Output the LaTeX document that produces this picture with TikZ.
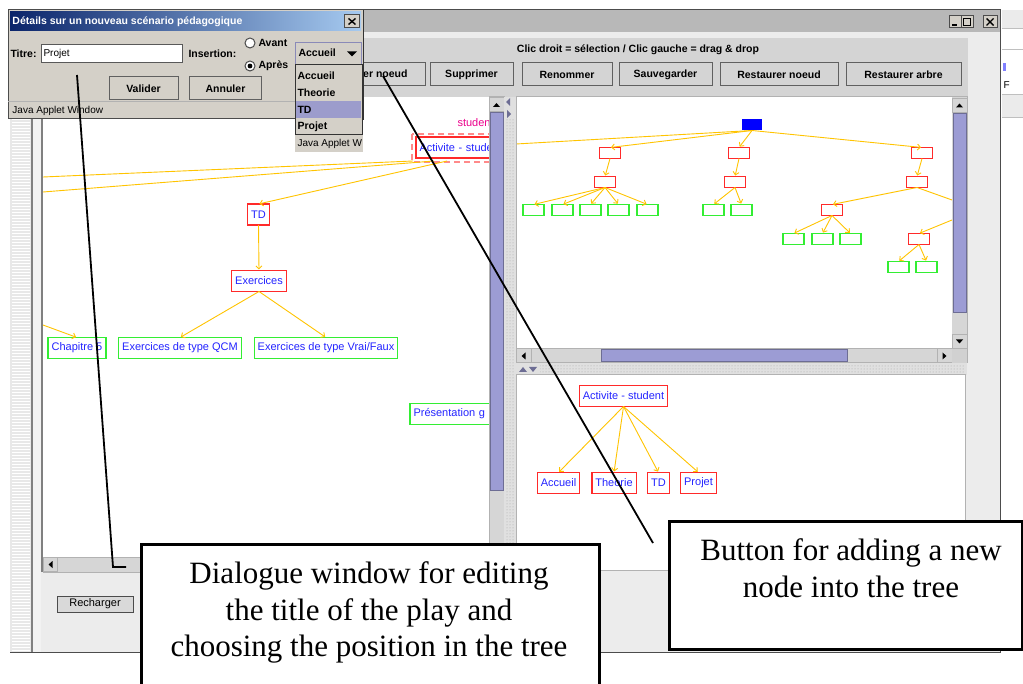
\documentclass[tikz,border=0pt]{standalone}
\usepackage{fontspec}
\setmainfont{Liberation Serif}
\newfontfamily\uif{Liberation Sans}
\usetikzlibrary{arrows.meta,patterns}
\definecolor{winbg}{HTML}{ECECEC}
\definecolor{dlgbg}{HTML}{D4D0C8}
\definecolor{tbbg}{HTML}{D4D4D4}
\definecolor{thumb}{HTML}{9C9CD4}
\definecolor{track}{HTML}{D6D6D6}
\definecolor{tyel}{HTML}{FFC400}
\definecolor{tblue}{HTML}{2424FF}
\definecolor{tred}{HTML}{FF2A2A}
\definecolor{tgreen}{HTML}{33EE33}
\definecolor{ttlA}{HTML}{0A246A}
\definecolor{ttlB}{HTML}{A6CAF0}
\definecolor{selc}{HTML}{9C9CCC}
\definecolor{combob}{HTML}{8A8AB8}
\newcommand\fui{\uif\fontsize{10}{12}\selectfont}
\newcommand\fuib{\uif\bfseries\fontsize{10.5}{12}\selectfont}
\newcommand\ftree{\uif\fontsize{11}{13}\selectfont}
\newcommand\fcall{\rmfamily\fontsize{31}{36.5}\selectfont}
\begin{document}
\begin{tikzpicture}[x=1pt,y=-1pt,line width=1pt,
 tbtn/.style={draw=gray!75!black, fill=tbbg, minimum height=23, inner sep=0, font=\fuib},
 dbtn/.style={tbtn, fill=dlgbg},
 wbtn/.style={draw=gray!60!black, fill=dlgbg, minimum width=12, minimum height=12, inner sep=0},
 tn/.style={text=tblue, font=\ftree, minimum height=20, inner xsep=3, inner ysep=0},
 gn/.style={tn},
 sbx/.style={minimum width=20, minimum height=10, inner sep=0},
 sgx/.style={sbx},
 rbord/.style={draw=tred, line width=1.3pt},
 gbord/.style={draw=tgreen, line width=1.3pt},
 ed/.style={draw=tyel, line width=0.9pt, -{Straight Barb[length=3pt,width=6pt]}, shorten >=1pt},
 edn/.style={draw=tyel, line width=0.9pt},
 radio/.style={circle, draw=gray!60!black, fill=white, minimum size=10, inner sep=0},
 callbox/.style={draw=black, line width=2.5pt, fill=white, inner sep=0},
 lead/.style={draw=black, line width=1.8pt},
 sarr/.style={fill=track, draw=gray!60, inner sep=0, minimum width=14, minimum height=14},
 item/.style={font=\fuib, anchor=west, inner sep=1},
]
\useasboundingbox (0,0) rectangle (1023,684);
\fill[white] (0,0) rectangle (1023,684);

% ---------- neighbouring window fragment
\fill[black!8] (1002,10) rectangle (1023,29);
\fill[black!8] (1002,95) rectangle (1023,118);
\foreach \yy in {29,50,95,118}{\draw[gray!50] (1002,\yy) -- (1023,\yy);}
\fill[blue!50] (1003,63) rectangle (1006,71);
\node[font=\fui, anchor=west, inner sep=0] (frag) at (1003,85) {F};

% ---------- main window
\fill[winbg] (10,10) rectangle (1000,652);
\fill[black!28] (10,10) rectangle (1000,32);
\draw[gray!60!black] (10,10) rectangle (1000,652);
\node[wbtn] (wmin) at (955,22) {};
\node[wbtn] (wmax) at (967,22) {};
\node[wbtn, minimum width=14] (wclose) at (990,22) {};
\draw[line width=1.6pt] ([shift={(-3,3)}]wmin.center) -- ([shift={(2,3)}]wmin.center);
\draw ([shift={(-3.5,-3.5)}]wmax.center) rectangle ([shift={(3.5,3.5)}]wmax.center);
\draw[line width=1.4pt] ([shift={(-3.5,-3.5)}]wclose.center) -- ([shift={(3.5,3.5)}]wclose.center);
\draw[line width=1.4pt] ([shift={(-3.5,3.5)}]wclose.center) -- ([shift={(3.5,-3.5)}]wclose.center);

% toolbar
\fill[tbbg] (10,38) rectangle (968,97);
\node[font=\fuib] (tblabel) at (638,50) {Clic droit = sélection / Clic gauche = drag \& drop};
\node[tbtn, minimum width=106] (bajout) at (372,74.5) {Ajouter noeud};
\node[tbtn, minimum width=83] (bsupp) at (471.5,74.5) {Supprimer};
\node[tbtn, minimum width=90] (brenom) at (567,74.5) {Renommer};
\node[tbtn, minimum width=93] (bsauve) at (665.5,74.5) {Sauvegarder};
\node[tbtn, minimum width=118] (brestn) at (779,74.5) {Restaurer noeud};
\node[tbtn, minimum width=115] (bresta) at (903.5,74.5) {Restaurer arbre};

% left strip
\fill[black!9] (10,97) rectangle (31,652);
\fill[pattern=horizontal lines, pattern color=white] (12,97) rectangle (30,652);
\fill[black!50] (30.5,97) rectangle (32.5,652);
\fill[black!5] (32.5,97) rectangle (41,652);
\fill[black!50] (41,97) rectangle (43,572);

% ---------- left panel
\fill[white] (43,97) rectangle (489,557);
\begin{scope}
\clip (43,97) rectangle (489,557);
\node[text=magenta, font=\ftree, anchor=west, inner sep=0] (stud) at (457,123) {studen};
\draw[tred!55, dash pattern=on 6pt off 4pt, line width=1.6pt] (412,134) rectangle (520,162);
\node[tn, anchor=west, text width=104, align=left] (lact) at (416,147.5) {Activite - stude};
\node[tn] (ltd) at (258.5,214.5) {TD};
\node[tn] (lex) at (259,281) {Exercices};
\node[gn] (lch) at (77,348) {Chapitre 5};
\node[gn] (lqcm) at (180,348) {Exercices de type QCM};
\node[gn] (lvf) at (326,348) {Exercices de type Vrai/Faux};
\node[gn, anchor=west, text width=114, align=left] (lpres) at (410,414) {Présentation g};
\foreach \k in {lact,ltd,lex}{\draw[rbord] (\k.south west) rectangle (\k.north east);}
\foreach \k in {lch,lqcm,lvf,lpres}{\draw[gbord] (\k.south west) rectangle (\k.north east);}
\coordinate (loff1) at (43,177);
\coordinate (loff2) at (43,192);
\coordinate (loff3) at (43,325);
\draw[edn] ([shift={(-3,3)}]lact.south west) -- (loff1);
\draw[edn] ([shift={(18,3)}]lact.south west) -- (loff2);
\draw[ed] ([shift={(31,3)}]lact.south west) -- (ltd.north);
\draw[ed] (ltd.south) -- (lex.north);
\draw[ed] (lex.south) -- (lqcm.north);
\draw[ed] (lex.south) -- (lvf.north);
\draw[ed] (loff3) -- (lch.north);
\end{scope}

% left scrollbars
\fill[track] (489,97) rectangle (504,557);
\draw[gray!60] (489,97) rectangle (504,557);
\node[sarr, minimum width=15] (lsup) at (496.5,105) {};
\fill ([shift={(-3.5,2)}]lsup.center) -- ([shift={(3.5,2)}]lsup.center) -- ([shift={(0,-2)}]lsup.center) -- cycle;
\fill[thumb] (490,113) rectangle (503,490);
\draw[thumb!70!black] (490,113) rectangle (503,490);
\fill[track] (43,557) rectangle (489,572);
\draw[gray!60] (43,557) rectangle (489,572);
\node[sarr] (lsleft) at (50.5,564.5) {};
\fill ([shift={(2,-3.5)}]lsleft.center) -- ([shift={(2,3.5)}]lsleft.center) -- ([shift={(-2,0)}]lsleft.center) -- cycle;

% vertical divider
\fill[black!12] (504,97) rectangle (516,572);
\fill[pattern=dots, pattern color=gray!70] (506,120) rectangle (514,572);
\fill[thumb!70!black] (510,98) -- (510,106) -- (506,102) -- cycle;
\fill[thumb!70!black] (507,110) -- (507,118) -- (511,114) -- cycle;

% ---------- right top panel
\fill[white] (516,97) rectangle (952,349);
\begin{scope}
\clip (516,97) rectangle (952,349);
\node[fill=blue, minimum width=20, minimum height=11, inner sep=0] (r0) at (752,124.5) {};
\node[sbx] (ra) at (610,153) {};
\node[sbx] (rb) at (739,153) {};
\node[sbx] (rc) at (922,153) {};
\node[sbx] (ra2) at (605,182) {};
\node[sbx] (rb2) at (735,182) {};
\node[sbx] (rc2) at (917,182) {};
\node[sgx] (ga1) at (533.5,210) {};
\node[sgx] (ga2) at (562.5,210) {};
\node[sgx] (ga3) at (590.5,210) {};
\node[sgx] (ga4) at (618.5,210) {};
\node[sgx] (ga5) at (647.5,210) {};
\node[sgx] (gb1) at (713.5,210) {};
\node[sgx] (gb2) at (741.5,210) {};
\node[sbx] (rc3) at (832,210) {};
\node[sgx] (gc1) at (793.5,239) {};
\node[sgx] (gc2) at (822.5,239) {};
\node[sgx] (gc3) at (850.5,239) {};
\node[sbx] (rc4) at (919,239) {};
\node[sgx] (gd1) at (898.5,267) {};
\node[sgx] (gd2) at (926.5,267) {};
\foreach \k in {ra,rb,rc,ra2,rb2,rc2,rc3,rc4}{\draw[rbord] (\k.south west) rectangle (\k.north east);}
\foreach \k in {ga1,ga2,ga3,ga4,ga5,gb1,gb2,gc1,gc2,gc3,gd1,gd2}{\draw[gbord] (\k.south west) rectangle (\k.north east);}
\coordinate (roff1) at (516,144);
\coordinate (roff2) at (952,200);
\coordinate (roff3) at (952,220);
\draw[edn] (r0.south) -- (roff1);
\draw[ed] (r0.south) -- (ra.north);
\draw[ed] (r0.south) -- (rb.north);
\draw[ed] (r0.south) -- (rc.north);
\draw[ed] (ra.south) -- (ra2.north);
\draw[ed] (rb.south) -- (rb2.north);
\draw[ed] (rc.south) -- (rc2.north);
\foreach \k in {ga1,ga2,ga3,ga4,ga5}{\draw[ed] (ra2.south) -- (\k.north);}
\foreach \k in {gb1,gb2}{\draw[ed] (rb2.south) -- (\k.north);}
\draw[ed] (rc2.south) -- (rc3.north);
\draw[edn] (rc2.south) -- (roff2);
\foreach \k in {gc1,gc2,gc3}{\draw[ed] (rc3.south) -- (\k.north);}
\draw[ed] (roff3) -- (rc4.north);
\foreach \k in {gd1,gd2}{\draw[ed] (rc4.south) -- (\k.north);}
\end{scope}
\draw[gray!60] (516,97) rectangle (967,363);
% right top scrollbars
\fill[track] (952,97) rectangle (967,349);
\node[sarr, minimum width=15] (rsup) at (959.5,105.5) {};
\fill ([shift={(-3.5,2)}]rsup.center) -- ([shift={(3.5,2)}]rsup.center) -- ([shift={(0,-2)}]rsup.center) -- cycle;
\fill[thumb] (953,114) rectangle (966,313);
\draw[thumb!70!black] (953,114) rectangle (966,313);
\node[sarr, minimum width=15] (rsdn) at (959.5,341.5) {};
\fill ([shift={(-3.5,-2)}]rsdn.center) -- ([shift={(3.5,-2)}]rsdn.center) -- ([shift={(0,2)}]rsdn.center) -- cycle;
\fill[track] (516,349) rectangle (952,363);
\draw[gray!60] (516,349) rectangle (952,363);
\node[sarr, minimum height=14, minimum width=15] (rsl) at (523.5,356) {};
\fill ([shift={(2,-3.5)}]rsl.center) -- ([shift={(2,3.5)}]rsl.center) -- ([shift={(-2,0)}]rsl.center) -- cycle;
\fill[thumb] (601,350) rectangle (847,362);
\draw[thumb!70!black] (601,350) rectangle (847,362);
\node[sarr, minimum height=14, minimum width=15] (rsr) at (944.5,356) {};
\fill ([shift={(-2,-3.5)}]rsr.center) -- ([shift={(-2,3.5)}]rsr.center) -- ([shift={(2,0)}]rsr.center) -- cycle;
\fill[black!18] (952,349) rectangle (967,363);
% horizontal divider
\fill[black!12] (516,363) rectangle (967,375);
\fill[pattern=dots, pattern color=gray!70] (540,365) rectangle (965,374);
\fill[thumb!70!black] (519,372) -- (527,372) -- (523,367) -- cycle;
\fill[thumb!70!black] (529,367) -- (537,367) -- (533,372) -- cycle;

% ---------- right bottom panel
\fill[white] (516,375) rectangle (965,570);
\draw[gray!60] (516,375) rectangle (965,570);
\node[tn] (bact) at (623.5,396) {Activite - student};
\node[tn] (bacc) at (558.5,483) {Accueil};
\node[tn] (bthe) at (614,483) {Theorie};
\node[tn] (btd) at (658.5,483) {TD};
\node[tn] (bpro) at (698.5,483) {Projet};
\foreach \k in {bact,bacc,bthe,btd,bpro}{\draw[rbord] (\k.south west) rectangle (\k.north east);}
\foreach \k in {bacc,bthe,btd,bpro}{\draw[ed] (bact.south) -- (\k.north);}

% recharger
\node[draw=gray!60!black, fill=black!15, minimum width=76, minimum height=16, inner sep=0, font=\uif\fontsize{11}{12}\selectfont] (brech) at (95,604) {Recharger};

% ---------- dialog
\fill[dlgbg] (8,10) rectangle (363,119);
\draw[gray!60!black] (8,10) rectangle (363,119);
\draw[black!80, line width=1.6pt] (363.5,10) -- (363.5,120);
\shade[left color=ttlA, right color=ttlB] (10,12) rectangle (361,31);
\node[font=\fuib, text=white, anchor=west, inner sep=0] (dtitle) at (12,21.5) {Détails sur un nouveau scénario pédagogique};
\node[wbtn, minimum width=15, minimum height=13] (dclose) at (352,21.5) {};
\draw[line width=1.4pt] ([shift={(-3.5,-3)}]dclose.center) -- ([shift={(3.5,3)}]dclose.center);
\draw[line width=1.4pt] ([shift={(-3.5,3)}]dclose.center) -- ([shift={(3.5,-3)}]dclose.center);
\node[item] (ltitre) at (9,53.5) {Titre:};
\node[draw=gray!70!black, fill=white, minimum height=18, text width=136, align=left, inner xsep=2.5, inner ysep=0, font=\fui] (tfield) at (111.5,53.5) {Projet};
\node[item] (linsert) at (187,53.5) {Insertion:};
\node[radio] (ravant) at (250,43) {};
\node[radio] (rapres) at (250,66) {};
\fill (rapres.center) circle (2.4);
\node[item] (tavant) at (257,43) {Avant};
\node[item] (tapres) at (257,66) {Après};
\node[draw=combob, fill=dlgbg, minimum width=66, minimum height=22, inner sep=0, anchor=north west] (combo) at (295,42) {};
\node[item] (tcombo) at (297,53) {Accueil};
\fill ([shift={(-15,-2)}]combo.east) -- ([shift={(-5,-2)}]combo.east) -- ([shift={(-10,3)}]combo.east) -- cycle;
\node[dbtn, minimum width=69] (bval) at (143.5,88.5) {Valider};
\node[dbtn, minimum width=72] (bann) at (225.5,88.5) {Annuler};
\draw[gray!60] (8,102) -- (363,102);
\node[font=\fui, anchor=west, inner sep=0] (jaw) at (12,111) {Java Applet Window};
% dropdown
\fill[dlgbg] (295,65) rectangle (362,135);
\fill[selc] (296,101) rectangle (361,118);
\draw[black!80] (295,65) rectangle (362,135);
\node[item] (i1) at (296,76) {Accueil};
\node[item] (i2) at (296,93) {Theorie};
\node[item] (i3) at (296,110) {TD};
\node[item] (i4) at (296,127) {Projet};
\fill[dlgbg] (295,135.5) rectangle (363,152);
\node[font=\fui, anchor=west, inner sep=0] (jaw2) at (297,144) {Java Applet W};

% ---------- callouts
\coordinate (c1a) at (77,75);
\coordinate (c1b) at (113,567);
\coordinate (c1c) at (126,567);
\draw[lead] (c1a) -- (c1b) -- (c1c);
\coordinate (c2a) at (383,76);
\coordinate (c2b) at (653,543);
\draw[lead] (c2a) -- (c2b);
\node[callbox, minimum width=458, minimum height=160, anchor=north west] (box1) at (140,543) {};
\node[font=\fcall, align=center, anchor=north] (t1) at (369,558) {Dialogue window for editing\\the title of the play and\\choosing the position in the tree};
\node[callbox, minimum width=353, minimum height=128, anchor=north west] (box2) at (668,520) {};
\node[font=\fcall, align=center, anchor=north] (t2) at (851,535) {Button for adding a new\\node into the tree};
\end{tikzpicture}
\end{document}
